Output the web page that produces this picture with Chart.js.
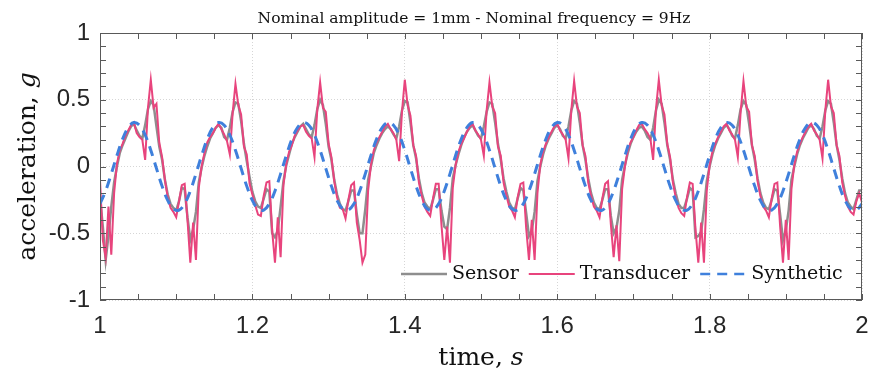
<!DOCTYPE html>
<html>
<head>
<meta charset="utf-8">
<script src="https://cdn.jsdelivr.net/npm/chart.js@4.4.0/dist/chart.umd.min.js"></script>
<style>
  html, body { margin: 0; padding: 0; background: #fff; }
  #chart { display: block; }
</style>
</head>
<body>
<canvas id="chart" width="872" height="376"></canvas>
<script>
const titleText    = 'Nominal amplitude = 1mm - Nominal frequency = 9Hz';
const seriesLabels = ['Sensor', 'Transducer', 'Synthetic'];
const xTickValues  = [1, 1.2, 1.4, 1.6, 1.8, 2];
const xTickLabels  = ['1', '1.2', '1.4', '1.6', '1.8', '2'];
const yTickValues  = [-1, -0.5, 0, 0.5, 1];
const yTickLabels  = ['-1', '-0.5', '0', '0.5', '1'];

// measured signals, 30 samples per 9 Hz cycle (one row per cycle), from t = 1 s
const measuredStart = 1;
const measuredStep  = 1 / 270;
const sensorValues = [
  -0.23,-0.45,-0.70,-0.52,-0.30,-0.12,0.00,0.10,0.16,0.21,0.26,0.30,0.32,0.27,0.23,0.21,0.31,0.43,0.49,0.46,0.30,0.15,0.05,-0.10,-0.21,-0.28,-0.31,-0.33,-0.26,-0.16,
  -0.17,-0.38,-0.55,-0.47,-0.34,-0.12,-0.01,0.08,0.15,0.21,0.25,0.29,0.31,0.29,0.22,0.20,0.29,0.41,0.48,0.47,0.34,0.17,0.04,-0.08,-0.19,-0.26,-0.30,-0.31,-0.24,-0.17,
  -0.19,-0.50,-0.53,-0.48,-0.30,-0.11,0.01,0.09,0.17,0.22,0.26,0.30,0.32,0.28,0.24,0.22,0.31,0.43,0.50,0.46,0.32,0.15,0.05,-0.10,-0.21,-0.28,-0.32,-0.33,-0.26,-0.18,
  -0.18,-0.36,-0.50,-0.50,-0.32,-0.10,0.00,0.10,0.16,0.21,0.25,0.28,0.30,0.28,0.24,0.21,0.30,0.42,0.49,0.48,0.33,0.16,0.06,-0.09,-0.20,-0.27,-0.30,-0.32,-0.25,-0.17,
  -0.17,-0.33,-0.45,-0.47,-0.31,-0.09,0.01,0.09,0.16,0.22,0.26,0.29,0.31,0.27,0.23,0.21,0.30,0.41,0.48,0.47,0.33,0.17,0.05,-0.09,-0.19,-0.27,-0.31,-0.32,-0.24,-0.16,
  -0.18,-0.35,-0.52,-0.48,-0.34,-0.11,0.00,0.09,0.16,0.21,0.25,0.29,0.31,0.28,0.23,0.21,0.30,0.42,0.49,0.47,0.33,0.16,0.05,-0.09,-0.20,-0.27,-0.31,-0.32,-0.25,-0.17,
  -0.17,-0.37,-0.50,-0.46,-0.33,-0.10,0.01,0.10,0.17,0.22,0.26,0.29,0.30,0.27,0.22,0.20,0.29,0.42,0.50,0.47,0.33,0.16,0.05,-0.10,-0.20,-0.28,-0.31,-0.31,-0.24,-0.16,
  -0.18,-0.53,-0.52,-0.49,-0.32,-0.11,0.00,0.09,0.16,0.21,0.25,0.29,0.31,0.28,0.23,0.21,0.31,0.43,0.49,0.46,0.32,0.16,0.05,-0.09,-0.20,-0.27,-0.31,-0.32,-0.25,-0.17,
  -0.18,-0.36,-0.55,-0.48,-0.33,-0.10,0.00,0.09,0.16,0.21,0.25,0.29,0.31,0.28,0.23,0.21,0.30,0.42,0.49,0.47,0.33,0.16,0.05,-0.09,-0.20,-0.27,-0.30,-0.32,-0.25,-0.18,
  -0.18
];
const transducerValues = [
  -0.10,-0.55,-0.68,-0.30,-0.66,-0.20,0.02,0.12,0.17,0.23,0.27,0.31,0.33,0.25,0.22,0.20,0.05,0.44,0.65,0.44,0.47,0.18,0.07,-0.10,-0.23,-0.31,-0.34,-0.38,-0.26,-0.14,
  -0.13,-0.40,-0.72,-0.42,-0.70,-0.16,0.00,0.10,0.18,0.22,0.25,0.29,0.32,0.28,0.24,0.19,0.09,0.40,0.62,0.46,0.39,0.15,0.09,-0.13,-0.21,-0.29,-0.36,-0.37,-0.22,-0.12,
  -0.11,-0.48,-0.72,-0.38,-0.68,-0.14,0.02,0.11,0.16,0.23,0.27,0.30,0.31,0.26,0.23,0.21,0.07,0.43,0.63,0.44,0.41,0.17,0.07,-0.11,-0.23,-0.31,-0.32,-0.39,-0.25,-0.14,
  -0.12,-0.42,-0.55,-0.72,-0.66,-0.18,0.01,0.12,0.18,0.22,0.26,0.30,0.32,0.28,0.25,0.20,0.04,0.41,0.65,0.46,0.38,0.16,0.08,-0.12,-0.22,-0.30,-0.34,-0.37,-0.24,-0.13,
  -0.13,-0.44,-0.70,-0.45,-0.72,-0.16,0.01,0.11,0.17,0.21,0.26,0.30,0.32,0.27,0.24,0.20,0.08,0.42,0.63,0.45,0.40,0.15,0.08,-0.12,-0.22,-0.30,-0.33,-0.38,-0.23,-0.13,
  -0.12,-0.46,-0.70,-0.40,-0.70,-0.20,0.01,0.11,0.17,0.22,0.26,0.30,0.32,0.27,0.24,0.20,0.06,0.42,0.64,0.45,0.40,0.16,0.08,-0.12,-0.22,-0.30,-0.33,-0.38,-0.24,-0.13,
  -0.11,-0.43,-0.68,-0.44,-0.71,-0.17,0.00,0.12,0.18,0.22,0.27,0.31,0.32,0.28,0.25,0.21,0.05,0.43,0.65,0.46,0.39,0.17,0.07,-0.12,-0.23,-0.31,-0.35,-0.37,-0.23,-0.12,
  -0.13,-0.47,-0.72,-0.42,-0.72,-0.18,0.01,0.11,0.17,0.22,0.26,0.30,0.32,0.27,0.24,0.20,0.07,0.41,0.64,0.45,0.41,0.16,0.08,-0.11,-0.22,-0.30,-0.33,-0.38,-0.24,-0.13,
  -0.12,-0.45,-0.72,-0.40,-0.70,-0.17,0.01,0.11,0.17,0.22,0.26,0.30,0.32,0.27,0.24,0.20,0.06,0.42,0.65,0.45,0.40,0.16,0.08,-0.12,-0.22,-0.30,-0.34,-0.36,-0.26,-0.20,
  -0.27
];
// synthetic sine, 15 samples per cycle
const syntheticStep = 1 / 135;
const syntheticValues = [
  -0.279,-0.183,-0.055,0.082,0.205,0.292,0.329,0.309,0.236,0.122,-0.014,-0.147,-0.254,-0.318,-0.326,
  -0.279,-0.183,-0.055,0.082,0.205,0.292,0.329,0.309,0.236,0.122,-0.014,-0.147,-0.254,-0.318,-0.326,
  -0.279,-0.183,-0.055,0.082,0.205,0.292,0.329,0.309,0.236,0.122,-0.014,-0.147,-0.254,-0.318,-0.326,
  -0.279,-0.183,-0.055,0.082,0.205,0.292,0.329,0.309,0.236,0.122,-0.014,-0.147,-0.254,-0.318,-0.326,
  -0.279,-0.183,-0.055,0.082,0.205,0.292,0.329,0.309,0.236,0.122,-0.014,-0.147,-0.254,-0.318,-0.326,
  -0.279,-0.183,-0.055,0.082,0.205,0.292,0.329,0.309,0.236,0.122,-0.014,-0.147,-0.254,-0.318,-0.326,
  -0.279,-0.183,-0.055,0.082,0.205,0.292,0.329,0.309,0.236,0.122,-0.014,-0.147,-0.254,-0.318,-0.326,
  -0.279,-0.183,-0.055,0.082,0.205,0.292,0.329,0.309,0.236,0.122,-0.014,-0.147,-0.254,-0.318,-0.326,
  -0.279,-0.183,-0.055,0.082,0.205,0.292,0.329,0.309,0.236,0.122,-0.014,-0.147,-0.254,-0.318,-0.326,
  -0.279
];

const SERIF = '"DejaVu Serif", "Liberation Serif", serif';
const SANS  = '"Liberation Sans", Arial, sans-serif';
const AXIS_COLOR = '#595959';

const toPoints = (values, step) => values.map((y, i) => ({ x: measuredStart + i * step, y }));
const findMajor = (v, list) => list.findIndex(m => Math.abs(m - v) < 1e-6);

// draws text made of several parts (some italic), centred on x
const drawParts = (ctx, parts, x, y) => {
  const widths = parts.map(p => { ctx.font = p.font; return ctx.measureText(p.text).width; });
  let cx = x - widths.reduce((s, w) => s + w, 0) / 2;
  ctx.textAlign = 'left';
  parts.forEach((p, i) => { ctx.font = p.font; ctx.fillText(p.text, cx, y); cx += widths[i]; });
};

const framePlugin = {
  id: 'frame',
  afterDatasetsDraw(chart) {
    const { ctx, chartArea: a, scales } = chart;
    ctx.save();

    // box + inward ticks on all four sides
    ctx.strokeStyle = AXIS_COLOR;
    ctx.lineWidth = 1;
    ctx.strokeRect(a.left + 0.5, a.top + 0.5, a.right - a.left - 1, a.bottom - a.top - 1);
    ctx.beginPath();
    scales.x.ticks.forEach(t => {
      const px = Math.round(scales.x.getPixelForValue(t.value)) + 0.5;
      ctx.moveTo(px, a.bottom); ctx.lineTo(px, a.bottom - 6);
      ctx.moveTo(px, a.top);    ctx.lineTo(px, a.top + 6);
    });
    scales.y.ticks.forEach(t => {
      const py = Math.round(scales.y.getPixelForValue(t.value)) + 0.5;
      ctx.moveTo(a.left, py);  ctx.lineTo(a.left + 6, py);
      ctx.moveTo(a.right, py); ctx.lineTo(a.right - 6, py);
    });
    ctx.stroke();

    // legend inside the plot, bottom right
    ctx.font = '19px ' + SERIF;
    ctx.textBaseline = 'middle';
    ctx.textAlign = 'left';
    const ly = a.bottom - 26;
    let lx = a.left + 301;
    chart.data.datasets.forEach(ds => {
      ctx.strokeStyle = ds.borderColor;
      ctx.lineWidth = Math.min(ds.borderWidth, 2.4);
      ctx.setLineDash(ds.borderDash || []);
      ctx.beginPath();
      ctx.moveTo(lx, ly); ctx.lineTo(lx + 46, ly);
      ctx.stroke();
      ctx.setLineDash([]);
      lx += 51;
      ctx.fillStyle = '#111';
      ctx.fillText(ds.label, lx, ly);
      lx += ctx.measureText(ds.label).width + 10;
    });
    ctx.restore();
  },
  afterDraw(chart) {
    const { ctx, chartArea: a } = chart;
    const cx = (a.left + a.right) / 2;
    ctx.save();
    ctx.fillStyle = '#111';
    ctx.textBaseline = 'alphabetic';

    drawParts(ctx, [{ text: titleText, font: '15.5px ' + SERIF }], cx - 7, 23);

    drawParts(ctx, [
      { text: 'time, ', font: '25px ' + SERIF },
      { text: 's', font: 'italic 25px ' + SERIF }
    ], cx, 365);

    ctx.translate(35, (a.top + a.bottom) / 2);
    ctx.rotate(-Math.PI / 2);
    drawParts(ctx, [
      { text: 'acceleration, ', font: '25px ' + SERIF },
      { text: 'g', font: 'italic 25px ' + SERIF }
    ], 0, 0);
    ctx.restore();
  }
};

new Chart(document.getElementById('chart'), {
  type: 'line',
  data: {
    datasets: [
      {
        label: seriesLabels[0],
        data: toPoints(sensorValues, measuredStep),
        borderColor: '#8e8e8e',
        borderWidth: 2.5,
        tension: 0,
        order: 3
      },
      {
        label: seriesLabels[1],
        data: toPoints(transducerValues, measuredStep),
        borderColor: '#e8447d',
        borderWidth: 2,
        tension: 0,
        order: 2
      },
      {
        label: seriesLabels[2],
        data: toPoints(syntheticValues, syntheticStep),
        borderColor: '#3f80dc',
        borderWidth: 3,
        borderDash: [10, 7],
        tension: 0.4,
        order: 1
      }
    ]
  },
  options: {
    responsive: false,
    animation: false,
    devicePixelRatio: 1,
    layout: { padding: { top: 33, right: 10, left: 0, bottom: 0 } },
    elements: { point: { radius: 0 } },
    plugins: {
      legend:  { display: false },
      title:   { display: false },
      tooltip: { enabled: false }
    },
    scales: {
      x: {
        type: 'linear',
        min: 1,
        max: 2,
        afterFit: s => { s.height = 76; s.paddingLeft = 0; s.paddingRight = 0; },
        ticks: {
          stepSize: 0.05,
          autoSkip: false,
          maxRotation: 0,
          padding: 12,
          color: '#262626',
          font: { family: SANS, size: 24 },
          callback: v => { const i = findMajor(v, xTickValues); return i < 0 ? '' : xTickLabels[i]; }
        },
        grid: {
          drawTicks: false,
          color: c => (c.tick && findMajor(c.tick.value, xTickValues) >= 0) ? '#d6d6d6' : 'rgba(0,0,0,0)'
        },
        border: { display: false, dash: [1, 2] }
      },
      y: {
        min: -1,
        max: 1,
        afterFit: s => { s.width = 100; s.paddingTop = 0; s.paddingBottom = 0; },
        ticks: {
          stepSize: 0.1,
          autoSkip: false,
          padding: 10,
          color: '#262626',
          font: { family: SANS, size: 24 },
          callback: v => { const i = findMajor(v, yTickValues); return i < 0 ? '' : yTickLabels[i]; }
        },
        grid: {
          drawTicks: false,
          color: c => (c.tick && findMajor(c.tick.value, yTickValues) >= 0) ? '#d6d6d6' : 'rgba(0,0,0,0)'
        },
        border: { display: false, dash: [1, 2] }
      }
    }
  },
  plugins: [framePlugin]
});
</script>
</body>
</html>
